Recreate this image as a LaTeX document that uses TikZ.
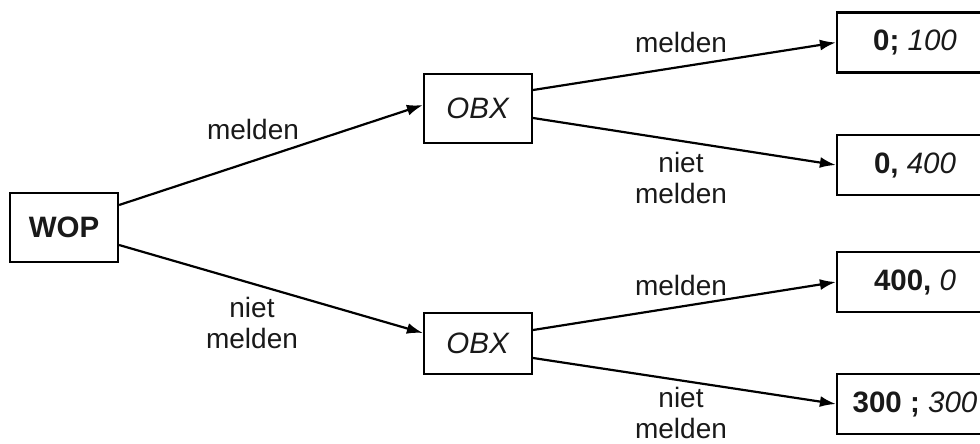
\documentclass[tikz,border=0pt]{standalone}
\usepackage{fontspec}
\setmainfont{Liberation Sans}
\usetikzlibrary{arrows.meta,calc}
\begin{document}
\begin{tikzpicture}[x=1pt,y=-1pt,
  font=\fontsize{28}{30.5}\selectfont,
  box/.style={draw=black,line width=2.2pt,inner sep=0pt,text=black!90,font=\fontsize{29.5}{32}\selectfont},
  leftbox/.style={box,minimum width=108pt,minimum height=69pt},
  endbox/.style={box,minimum width=156pt,minimum height=60pt},
  lbl/.style={text=black!90,align=center,inner sep=0pt,anchor=base},
  arr/.style={line width=2.2pt,-{Latex[length=16pt,width=11pt]}}]
\useasboundingbox (0,0) rectangle (980,444);
\node[leftbox] (wop) at (64,227.5) {\textbf{WOP}};
\node[leftbox] (obxa) at (478,108.5) {\textit{OBX}};
\node[leftbox,minimum height=61pt] (obxb) at (478,343.5) {\textit{OBX}};
\node[endbox] (ra) at (915,42.5) {\textbf{0;} \textit{100}};
\node[endbox] (rb) at (915,165) {\textbf{0,} \textit{400}};
\node[endbox] (rc) at (915,282) {\textbf{400,} \textit{0}};
\node[endbox] (rd) at (915,404) {\textbf{300 ;} \textit{300}};
\draw[arr] ($(wop.east)+(0,-22.5)$) -- ($(obxa.west)+(0,-3.5)$);
\draw[arr] ($(wop.east)+(0,17.5)$) -- ($(obxb.west)+(0,-10.5)$);
\draw[arr] ($(obxa.east)+(0,-18.5)$) -- (ra.west);
\draw[arr] ($(obxa.east)+(0,9.5)$) -- (rb.west);
\draw[arr] ($(obxb.east)+(0,-13.5)$) -- (rc.west);
\draw[arr] ($(obxb.east)+(0,14.5)$) -- (rd.west);
\node[lbl] (l1) at (253,139) {melden};
\node[lbl] (l2) at (252,348) {niet\\melden};
\node[lbl] (l3) at (681,53) {melden};
\node[lbl] (l4) at (681,203) {niet\\melden};
\node[lbl] (l5) at (681,295) {melden};
\node[lbl] (l6) at (681,438) {niet\\melden};
\end{tikzpicture}
\end{document}
